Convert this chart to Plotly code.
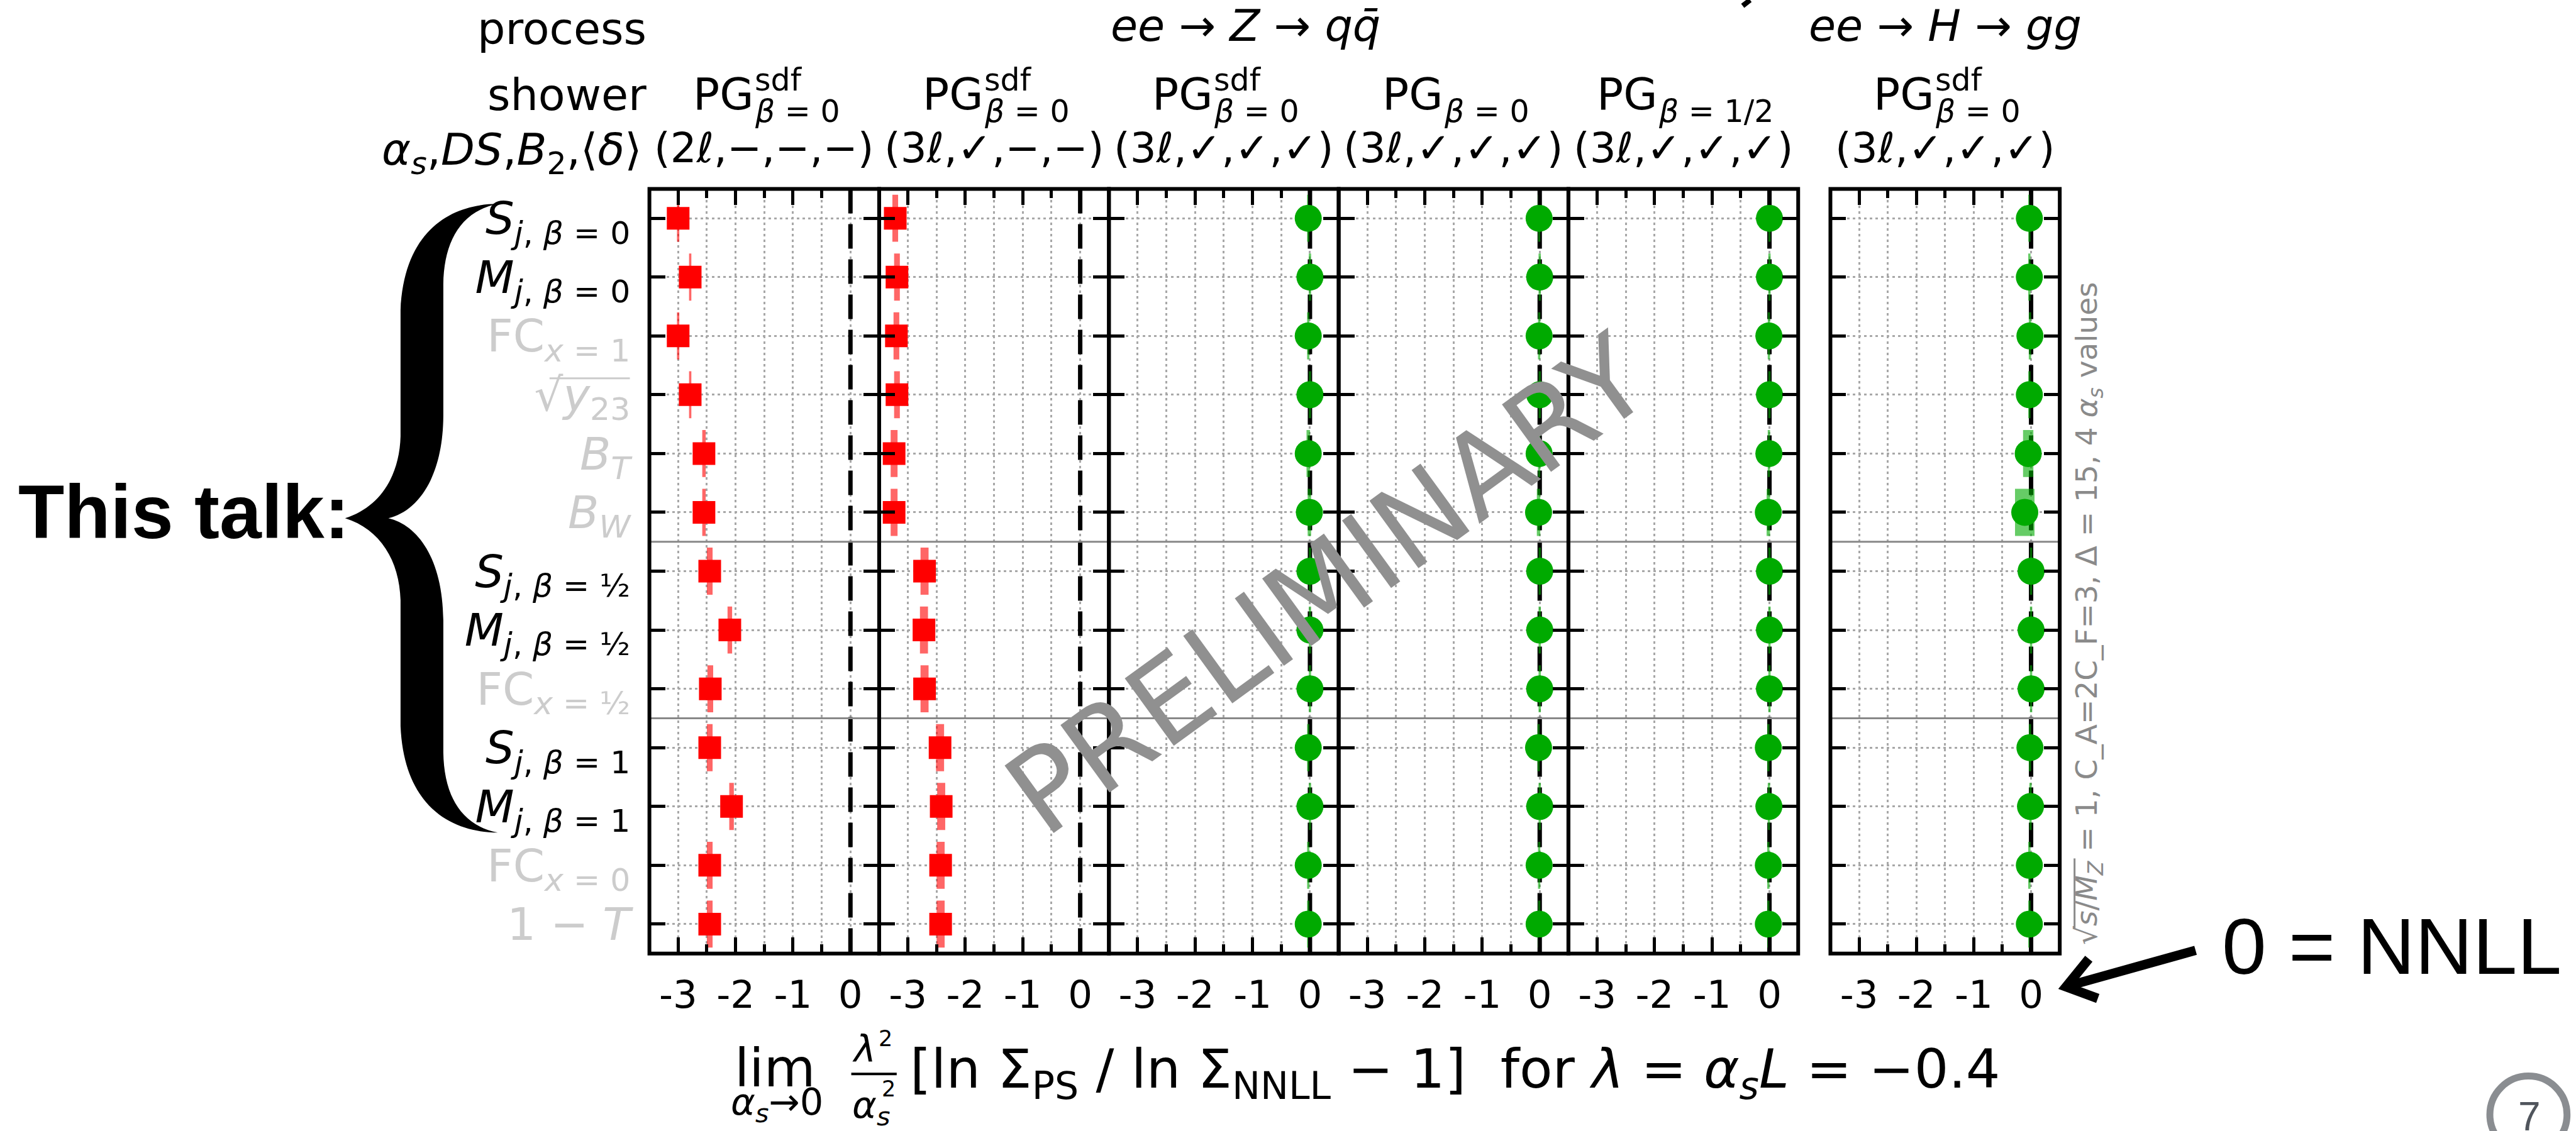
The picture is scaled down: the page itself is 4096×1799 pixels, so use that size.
import plotly.graph_objects as go

# Layout is laid out on a 4875 x 2141 design grid and scaled onto the page.
REF_W, REF_H = 4875, 2141
PAGE_W, PAGE_H = 4096, 1799
K = PAGE_W / REF_W


def px(x):
    return x / REF_W


def py(y):
    return 1 - y / REF_H


# ---------------------------------------------------------------- data
rows = list(range(13))

row_labels = [
    "<i>S</i><sub><i>j</i>, <i>β</i> = 0</sub>",
    "<i>M</i><sub><i>j</i>, <i>β</i> = 0</sub>",
    "FC<sub><i>x</i> = 1</sub>",
    "√<i>y</i><sub>23</sub>",
    "<i>B</i><sub><i>T</i></sub>",
    "<i>B</i><sub><i>W</i></sub>",
    "<i>S</i><sub><i>j</i>, <i>β</i> = ½</sub>",
    "<i>M</i><sub><i>j</i>, <i>β</i> = ½</sub>",
    "FC<sub><i>x</i> = ½</sub>",
    "<i>S</i><sub><i>j</i>, <i>β</i> = 1</sub>",
    "<i>M</i><sub><i>j</i>, <i>β</i> = 1</sub>",
    "FC<sub><i>x</i> = 0</sub>",
    "1 − <i>T</i>",
]
row_highlight = [True, True, False, False, False, False,
                 True, True, False, True, True, False, False]
group_sizes = [6, 3, 4]

x_tick_vals = [-3, -2, -1, 0]
x_tick_text = ["-3", "-2", "-1", "0"]
x_minor_vals = [-2.5, -1.5, -0.5]
x_range = [-3.5, 0.5]

shower_beta = ["0", "0", "0", "0", "1/2", "0"]
shower_sup = ["sdf", "sdf", "sdf", "", "", "sdf"]
shower_options = ["(2ℓ,−,−,−)", "(3ℓ,✓,−,−)", "(3ℓ,✓,✓,✓)",
                  "(3ℓ,✓,✓,✓)", "(3ℓ,✓,✓,✓)", "(3ℓ,✓,✓,✓)"]
process_labels = ["<i>ee</i> → <i>Z</i> → <i>qq̄</i>", "<i>ee</i> → <i>H</i> → <i>gg</i>"]
process_panel = [2, 5]

# limit of the scaled log-ratio, per observable, for each shower
dev_sdf0_2l = [-3.00, -2.79, -3.00, -2.79, -2.55, -2.55, -2.45, -2.10, -2.44, -2.45, -2.07, -2.45, -2.45]
err_sdf0_2l = [0.02, 0.02, 0.02, 0.02, 0.03, 0.03, 0.05, 0.04, 0.05, 0.05, 0.04, 0.05, 0.05]
dev_sdf0_3l_a = [-3.22, -3.19, -3.20, -3.19, -3.24, -3.24, -2.71, -2.72, -2.71, -2.44, -2.42, -2.43, -2.43]
err_sdf0_3l_a = [0.05, 0.05, 0.05, 0.05, 0.06, 0.06, 0.07, 0.07, 0.07, 0.07, 0.07, 0.07, 0.07]
dev_sdf0_3l = [-0.03, 0.00, -0.03, 0.00, -0.03, -0.01, 0.00, 0.00, 0.00, -0.03, 0.00, -0.03, -0.03]
err_sdf0_3l = [0.02, 0.02, 0.02, 0.02, 0.03, 0.03, 0.02, 0.02, 0.02, 0.02, 0.02, 0.02, 0.02]
dev_pg0_3l = [-0.01, 0.00, -0.01, 0.00, -0.01, -0.02, 0.00, 0.00, 0.00, -0.02, 0.00, -0.01, -0.01]
err_pg0_3l = [0.02, 0.02, 0.02, 0.02, 0.02, 0.03, 0.02, 0.02, 0.02, 0.02, 0.02, 0.02, 0.02]
dev_pghalf_3l = [0.00, 0.00, -0.01, 0.00, -0.01, -0.02, 0.00, 0.00, 0.00, -0.02, -0.01, -0.02, -0.02]
err_pghalf_3l = [0.02, 0.02, 0.02, 0.02, 0.02, 0.03, 0.02, 0.02, 0.02, 0.02, 0.02, 0.02, 0.02]
dev_sdf0_3l_h = [-0.03, -0.03, -0.02, -0.03, -0.05, -0.11, 0.00, 0.00, 0.00, -0.02, -0.01, -0.03, -0.03]
err_sdf0_3l_h = [0.02, 0.02, 0.02, 0.02, 0.09, 0.17, 0.02, 0.02, 0.02, 0.02, 0.02, 0.02, 0.02]

panel_values = [dev_sdf0_2l, dev_sdf0_3l_a, dev_sdf0_3l, dev_pg0_3l, dev_pghalf_3l, dev_sdf0_3l_h]
panel_errors = [err_sdf0_2l, err_sdf0_3l_a, err_sdf0_3l, err_pg0_3l, err_pghalf_3l, err_sdf0_3l_h]
panel_ok = [False, False, True, True, True, True]

# ---------------------------------------------------------------- styles
RED, RED_BAND = "#ff0000", "rgba(255,0,0,0.6)"
GREEN, GREEN_BAND = "#00aa00", "rgba(0,170,0,0.6)"
GRID = "#a8a8a8"
GRID_DASH = "4px,5px"
FONT = "DejaVu Sans"
HELV = "Liberation Sans"
NOTE_GREY = "#8a8a8a"
BAND_HALF = 0.4

PANEL_W = 434.8
L = [1229 + i * PANEL_W for i in range(5)] + [3464.0]
R = [l + PANEL_W for l in L[:5]] + [3898.0]
TOP, BOT = 357.5, 1805.0

fig = go.Figure()
shapes = []
annotations = []


def band_outline(vals, errs):
    xs, ys = [], []
    for r, v, e in zip(rows, vals, errs):
        xs += [v - e, v + e, v + e, v - e, v - e, None]
        ys += [r - BAND_HALF, r - BAND_HALF, r + BAND_HALF, r + BAND_HALF, r - BAND_HALF, None]
    return xs, ys


for i in range(6):
    n = "" if i == 0 else str(i + 1)
    xa, ya = "x" + n, "y" + n
    vals, errs = panel_values[i], panel_errors[i]
    ok = panel_ok[i]

    # NNLL reference at zero
    fig.add_trace(go.Scatter(
        x=[0, 0], y=[-0.5, 12.5], mode="lines",
        line=dict(color="black", width=7, dash="39px,17px"),
        xaxis=xa, yaxis=ya, hoverinfo="skip", showlegend=False))
    # spread over the alpha_s values
    bx, by = band_outline(vals, errs)
    fig.add_trace(go.Scatter(
        x=bx, y=by, mode="lines", fill="toself",
        fillcolor=GREEN_BAND if ok else RED_BAND, line=dict(width=0),
        xaxis=xa, yaxis=ya, hoverinfo="skip", showlegend=False))
    # extrapolated value
    fig.add_trace(go.Scatter(
        x=vals, y=rows, mode="markers",
        marker=dict(symbol="circle" if ok else "square", size=43 if ok else 36,
                    color=GREEN if ok else RED, line=dict(width=0)),
        xaxis=xa, yaxis=ya, hoverinfo="skip", showlegend=False))

    tick_text = [lab if hi else f"<span style='color:#cccccc'>{lab}</span>"
                 for lab, hi in zip(row_labels, row_highlight)]
    fig.update_layout({
        "xaxis" + n: dict(
            domain=[px(L[i]), px(R[i])], range=x_range, anchor=ya,
            tickmode="array", tickvals=x_tick_vals, ticktext=x_tick_text,
            ticks="inside", ticklen=26, tickwidth=4.5, tickcolor="black",
            showline=True, linewidth=1, linecolor="black", mirror="ticks",
            showgrid=True, gridcolor=GRID, gridwidth=3, griddash=GRID_DASH,
            zeroline=False, automargin=False, fixedrange=True,
            tickfont=dict(family=FONT, size=61, color="black"),
            ticklabelstandoff=12,
            minor=dict(tickvals=x_minor_vals, ticks="inside", ticklen=15,
                       tickwidth=4.5, tickcolor="black", showgrid=True,
                       gridcolor=GRID, gridwidth=3, griddash=GRID_DASH),
        ),
        "yaxis" + n: dict(
            domain=[py(BOT), py(TOP)], range=[12.5, -0.5], anchor=xa,
            tickmode="array", tickvals=rows, ticktext=tick_text,
            showticklabels=(i == 0),
            ticks="inside", ticklen=25, tickwidth=4.5, tickcolor="black",
            showline=True, linewidth=1, linecolor="black", mirror="ticks",
            showgrid=True, gridcolor=GRID, gridwidth=3, griddash=GRID_DASH,
            zeroline=False, automargin=False, fixedrange=True,
            tickfont=dict(family=FONT, size=72, color="black"),
            ticklabelstandoff=15,
        ),
    })

    # separators between observable groups
    edge = -0.5
    for g in group_sizes[:-1]:
        edge += g
        shapes.append(dict(type="line", xref=xa + " domain", yref=ya, x0=0, x1=1, y0=edge, y1=edge,
                           line=dict(color="#888888", width=3), layer="above"))
    # panel frame
    shapes.append(dict(type="rect", xref=xa + " domain", yref=ya + " domain", x0=0, x1=1, y0=0, y1=1,
                       line=dict(color="black", width=6), layer="above"))


def note(text, x, base, size, xanchor="left", color="black", family=FONT, mode="middle", angle=0):
    """Place text by its baseline (design units); size in page px."""
    f = size / K
    if mode == "middle":
        y, ya = base - 0.346 * f, "middle"
    elif mode == "top":
        y, ya = base - 0.928 * f, "top"
    elif mode == "bottom":
        y, ya = base + 0.236 * f, "bottom"
    else:
        y, ya = base, "middle"
    annotations.append(dict(text=text, x=px(x), y=py(y), xref="paper", yref="paper",
                            xanchor=xanchor, yanchor=ya, showarrow=False, textangle=angle,
                            borderpad=0, font=dict(family=family, size=size, color=color)))


def line(x0, y0, x1, y1, color, width):
    shapes.append(dict(type="line", xref="paper", yref="paper", x0=px(x0), x1=px(x1),
                       y0=py(y0), y1=py(y1), line=dict(color=color, width=width)))


# ---------------------------------------------------------------- header
MAIN, SCRIPT = 70, 49
W_EM = {"P": .603, "G": .775, "β": .602, " ": .318, "=": .838, "0": .636,
        "1": .636, "/": .337, "2": .636, "s": .521, "d": .635, "f": .352}


def em(s):
    return sum(W_EM.get(c, .6) for c in s)


note("process", 1225, 83, MAIN, "right")
note("shower", 1225, 208, MAIN, "right")
note("<i>α</i><sub><i>s</i></sub>,<i>DS</i>,<i>B</i><sub>2</sub>,⟨<i>δ</i>⟩", 1215, 310, MAIN, "right", mode="top")

for lab, p in zip(process_labels, process_panel):
    c = (L[p] + R[p]) / 2 + (41 if p == 2 else 0)
    note(lab, c, 78, MAIN, "center")

for i in range(6):
    c = (L[i] + R[i]) / 2
    w_main = em("PG") * MAIN / K
    sub = f"β = {shower_beta[i]}"
    w_sub = em(sub) * SCRIPT / K
    w_sup = em(shower_sup[i]) * SCRIPT / K
    left = c - (w_main + max(w_sub, w_sup)) / 2
    note("PG", left, 207, MAIN, "left")
    note(f"<i>β</i> = {shower_beta[i]}", left + w_main + 2, 232, SCRIPT, "left")
    if shower_sup[i]:
        note(shower_sup[i], left + w_main + 2, 172, SCRIPT, "left")
    note(shower_options[i], c, 308, 66, "center")

# ---------------------------------------------------------------- x title
note("lim", 1467, 2057, 84, "center")
note("<i>α</i><sub><i>s</i></sub>→0", 1471, 2108, 59, "center", mode="top")
note("<i>λ</i>", 1611, 2010, 59, "left")
note("2", 1661, 1980, 35, "left")
note("<i>α</i><sub><i>s</i></sub>", 1611, 2115, 59, "left", mode="top")
note("2", 1668, 2076, 35, "left")
line(1611, 2033, 1697, 2033, "black", 4)
note("[ln Σ<sub>PS</sub> / ln Σ<sub>NNLL</sub> − 1]\u00a0\u00a0for <i>λ</i> = <i>α</i><sub><i>s</i></sub><i>L</i> = −0.4",
     1721, 2057, 86, "left", mode="top")

# ---------------------------------------------------------------- side notes
note("√<i>s</i>/<i>M</i><sub><i>Z</i></sub> = 1, C_A=2C_F=3, Δ = 15, 4 <i>α</i><sub><i>s</i></sub> values",
     3952, 1161, 47, "center", color=NOTE_GREY, mode="raw", angle=-90)
line(3926, 1625, 3926, 1758, NOTE_GREY, 3)   # overline of the square root
note("PRELIMINARY", 2512, 1108, 182, "center", color="#909090", mode="raw", angle=-36)
note("<b>This talk:</b>", 33, 1018, 120, "left", family=HELV)
note("0 = NNLL", 4204, 1843, 127, "left", family=HELV)
note("7", 4787, 2114, 64, "center", color="#50555c", family=HELV, mode="raw")

# overline of the square root in the y23 label
line(1040, 716, 1192, 716, "#cccccc", 3)


def ref_path(tokens):
    out = []
    for t in tokens:
        out.append(t if isinstance(t, str) else f"{px(t[0]):.5f},{py(t[1]):.5f}")
    return " ".join(out)


brace = ref_path([
    "M", (942, 386), "C", (860, 386), (765, 430), (758, 587), "L", (758, 826),
    "C", (756, 900), (720, 960), (653, 981),
    "C", (720, 1002), (756, 1062), (758, 1136), "L", (758, 1375),
    "C", (765, 1532), (860, 1576), (942, 1576),
    "C", (870, 1562), (840, 1502), (839, 1424), "L", (839, 1174),
    "C", (838, 1057), (790, 994), (735, 981),
    "C", (790, 968), (838, 905), (839, 788), "L", (839, 538),
    "C", (840, 460), (870, 400), (942, 386), "Z"])
shapes.append(dict(type="path", xref="paper", yref="paper", path=brace,
                   fillcolor="black", line=dict(width=0)))

# arrow pointing at the zero tick
shapes.append(dict(type="path", xref="paper", yref="paper",
                   path=ref_path(["M", (4155, 1799), "L", (3915, 1866)]),
                   line=dict(color="black", width=15)))
shapes.append(dict(type="path", xref="paper", yref="paper",
                   path=ref_path(["M", (3953, 1815), "L", (3910, 1868), "L", (3970, 1890)]),
                   line=dict(color="black", width=15)))

# page badge
shapes.append(dict(type="circle", xref="paper", yref="paper",
                   x0=px(4712), x1=px(4858), y0=py(2037), y1=py(2183),
                   line=dict(color="#8a8d91", width=11)))

# tail of a glyph from the line above the chart
shapes.append(dict(type="path", xref="paper", yref="paper",
                   path=ref_path(["M", (3312, 0), "L", (3298, 11)]),
                   line=dict(color="black", width=8)))

fig.update_layout(
    template="none",
    width=PAGE_W, height=PAGE_H,
    margin=dict(l=0, r=0, t=0, b=0, pad=0),
    paper_bgcolor="white", plot_bgcolor="white",
    showlegend=False,
    shapes=shapes, annotations=annotations,
)

fig.write_html("out.html")
